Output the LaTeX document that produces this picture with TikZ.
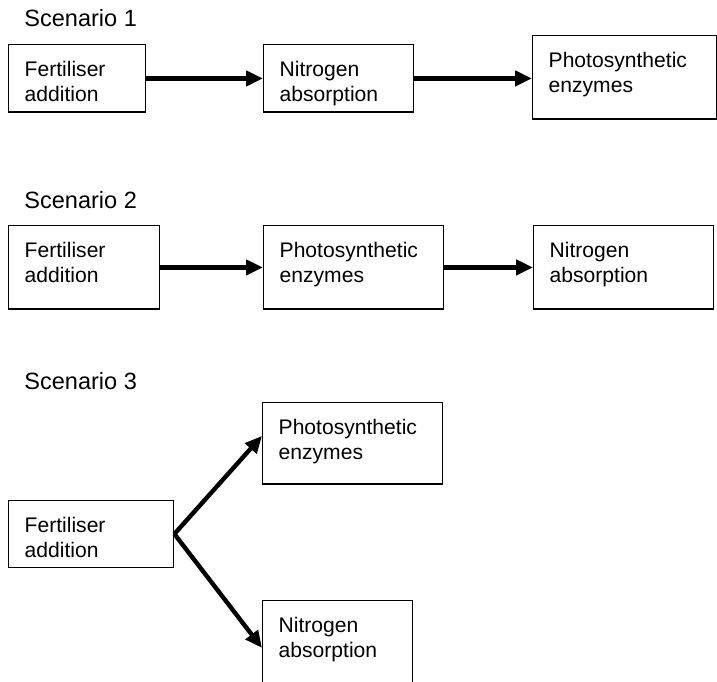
\documentclass[tikz,border=0pt]{standalone}
\usepackage{fontspec}
\setmainfont{Liberation Sans}
\usetikzlibrary{arrows.meta}

\begin{document}
\begin{tikzpicture}[x=0.02cm, y=-0.02cm,
    stage/.style={draw, line width=0.8pt, rectangle, anchor=north west, align=left,
                  inner xsep=0.32cm, inner ysep=0pt, text height=0.63cm,
                  font=\fontsize{12pt}{14.2pt}\selectfont},
    title/.style={anchor=base west, inner sep=0pt, font=\fontsize{13.4pt}{16pt}\selectfont},
    flow/.style={-{Triangle[length=0.34cm, width=0.3cm]}, line width=2.5pt}]
            \clip (0,0) rectangle (717,681);

            % Scenario 1
            \node[title] at (24, 26) (sc1) {Scenario 1};
            \node[stage, text width=2.1cm, text depth=0.72cm]  at (8, 44)   (fert1)  {Fertiliser\\addition};
            \node[stage, text width=2.36cm, text depth=0.72cm] at (263, 44) (nitro1) {Nitrogen\\absorption};
            \node[stage, text width=3.04cm, text depth=1.04cm] at (532, 35) (photo1) {Photosynthetic\\enzymes};

            \draw [flow] (fert1.east) -- (fert1.east -| nitro1.west);
            \draw [flow] (nitro1.east) -- (nitro1.east -| photo1.west);

            % Scenario 2
            \node[title] at (24, 208) (sc2) {Scenario 2};
            \node[stage, text width=2.38cm, text depth=1.04cm] at (8, 225)   (fert2)  {Fertiliser\\addition};
            \node[stage, text width=2.96cm, text depth=1.04cm] at (263, 225) (photo2) {Photosynthetic\\enzymes};
            \node[stage, text width=2.96cm, text depth=1.04cm] at (533, 225) (nitro2) {Nitrogen\\absorption};

            \draw [flow] (fert2.east) -- (photo2.west);
            \draw [flow] (photo2.east) -- (nitro2.west);

            % Scenario 3
            \node[title] at (24, 389) (sc3) {Scenario 3};
            \node[stage, text width=2.96cm, text depth=1.0cm]  at (262, 402) (photo3) {Photosynthetic\\enzymes};
            \node[stage, text width=2.66cm, text depth=0.7cm]  at (8, 500)   (fert3)  {Fertiliser\\addition};
            \node[stage, text width=2.36cm, text depth=1.04cm] at (262, 600) (nitro3) {Nitrogen\\absorption};

            \draw [flow] (fert3.east) -- ([yshift=0.15cm]photo3.west);
            \draw [flow] (fert3.east) -- ([yshift=-0.11cm]nitro3.west);
\end{tikzpicture}
\end{document}
